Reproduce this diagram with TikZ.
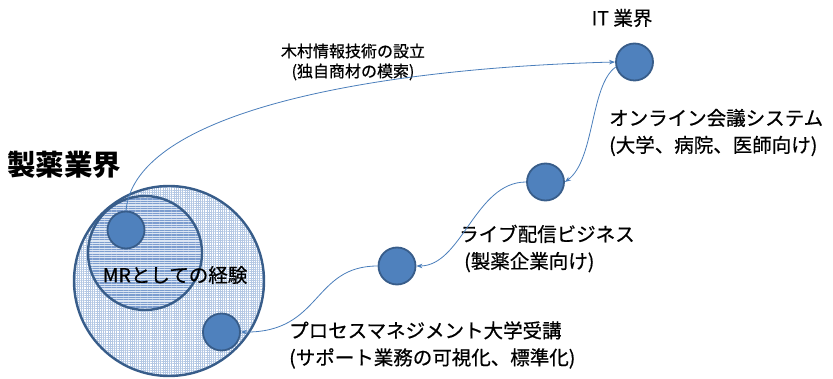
\documentclass[tikz,border=0pt]{standalone}
\usepackage{fontspec}
\setmainfont{Noto Sans CJK JP}
\newfontfamily\lblfont{Noto Sans CJK JP}[FakeBold=0.6]
\usetikzlibrary{arrows.meta,patterns.meta}
\definecolor{nodefill}{HTML}{4F81BD}
\definecolor{nodeedge}{HTML}{385D8A}
\definecolor{linkc}{HTML}{4A7EBB}
\definecolor{gridc}{HTML}{B4C8E4}
\definecolor{hlinec}{HTML}{7C9DCF}
\definecolor{hbase}{HTML}{DCE6F3}
\begin{document}
\begin{tikzpicture}[x=1pt,y=-1pt,
  dot/.style={circle,fill=nodefill,draw=nodeedge,line width=1.8pt,minimum size=37pt,inner sep=0pt},
  area/.style={circle,draw=nodeedge,line width=2.4pt,inner sep=0pt},
  link/.style={draw=linkc,line width=0.8pt,-{Stealth[length=6pt,width=4.5pt]}},
  lbl/.style={font=\lblfont\fontsize{19.5}{27}\selectfont,align=left,inner sep=0pt},
  small/.style={font=\lblfont\fontsize{16}{20}\selectfont,align=center,inner sep=0pt}]
\useasboundingbox (0,0) rectangle (833,379);
% areas
\node[area,minimum size=190pt,preaction={fill=white},
      pattern={Hatch[angle=0,distance=2.2pt,line width=0.5pt]},pattern color=gridc] (pharma) at (169,281) {};
\node[area,minimum size=114pt,preaction={fill=hbase},
      pattern={Lines[angle=0,distance=2.4pt,line width=1.1pt]},pattern color=hlinec] (mrarea) at (145,253) {};
% dots
\node[dot] (s1) at (126,230) {};
\node[dot] (c4) at (221.5,332) {};
\node[dot] (c3) at (397,266) {};
\node[dot] (c2) at (545.5,182) {};
\node[dot] (it) at (634.5,62) {};
% texts
\node[font=\fontsize{28.5}{30}\selectfont\bfseries,anchor=west,inner sep=0pt] (pharmat) at (7,165) {製薬業界};
\node[lbl,anchor=center] (mrt) at (175,275) {MRとしての経験};
\node[lbl,anchor=center] (itt) at (622,18) {IT 業界};
\node[lbl,anchor=west] (onl) at (609,132.5) {オンライン会議システム\\(大学、病院、医師向け)};
\node[lbl,anchor=west] (live) at (459,248.5) {ライブ配信ビジネス\\\hspace{5pt}(製薬企業向け)};
\node[lbl,anchor=west] (pm) at (289,345) {プロセスマネジメント大学受講\\(サポート業務の可視化、標準化)};
\node[small] (kimura) at (353,62) {木村情報技術の設立\\(独自商材の模索)};
% connectors
\coordinate (k1) at (135,110);
\coordinate (k2) at (380,68);
\draw[link] (s1.north) .. controls (k1) and (k2) .. (it.west);
\coordinate (m1) at (590,85);
\coordinate (m2) at (595,160);
\draw[link] (it.195) .. controls (m1) and (m2) .. (c2.east);
\coordinate (n1) at (475,182);
\coordinate (n2) at (462,266);
\draw[link] (c2.west) .. controls (n1) and (n2) .. (c3.east);
\coordinate (p1) at (312,266);
\coordinate (p2) at (322,333);
\draw[link] (c3.west) .. controls (p1) and (p2) .. (c4.east);
\end{tikzpicture}
\end{document}
